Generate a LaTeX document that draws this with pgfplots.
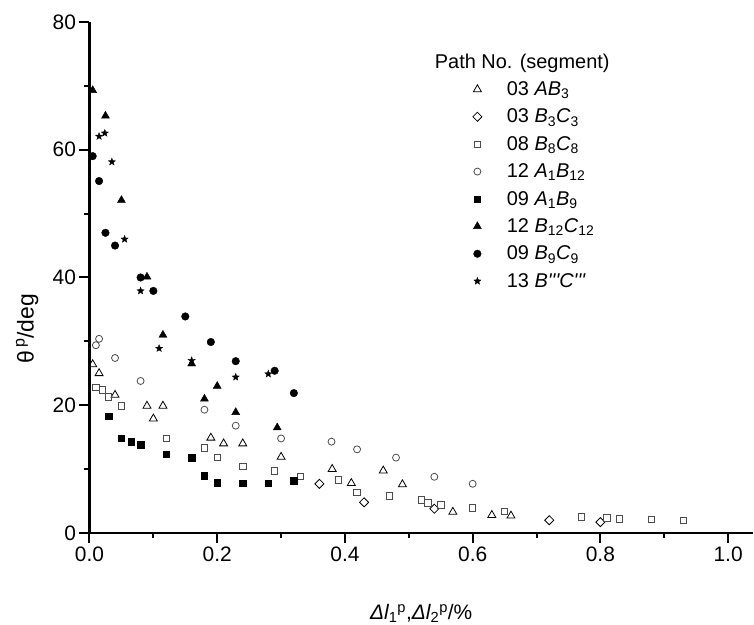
\documentclass[border=0pt]{standalone}
\usepackage{fontspec}
\setmainfont{Liberation Sans}
\usepackage{pgfplots}
\pgfplotsset{compat=1.18}
\pgfdeclareplotmark{fstar}{%
  \pgfpathmoveto{\pgfqpointpolar{90}{\pgfplotmarksize}}%
  \pgfpathlineto{\pgfqpointpolar{126}{0.42\pgfplotmarksize}}%
  \pgfpathlineto{\pgfqpointpolar{162}{\pgfplotmarksize}}%
  \pgfpathlineto{\pgfqpointpolar{198}{0.42\pgfplotmarksize}}%
  \pgfpathlineto{\pgfqpointpolar{234}{\pgfplotmarksize}}%
  \pgfpathlineto{\pgfqpointpolar{270}{0.42\pgfplotmarksize}}%
  \pgfpathlineto{\pgfqpointpolar{306}{\pgfplotmarksize}}%
  \pgfpathlineto{\pgfqpointpolar{342}{0.42\pgfplotmarksize}}%
  \pgfpathlineto{\pgfqpointpolar{18}{\pgfplotmarksize}}%
  \pgfpathlineto{\pgfqpointpolar{54}{0.42\pgfplotmarksize}}%
  \pgfpathclose
  \pgfusepathqfillstroke}
\begin{document}
\begin{tikzpicture}
\path[use as bounding box] (-89.5bp,-92bp) rectangle (664.5bp,533bp);
\begin{axis}[
  scale only axis, width=663.5bp, height=511bp,
  xmin=0, xmax=1.039, ymin=0, ymax=80,
  axis x line*=bottom, axis y line*=left,
  clip=false,
  xtick={0,0.2,0.4,0.6,0.8,1.0}, minor xtick={0.1,0.3,0.5,0.7,0.9},
  ytick={0,20,40,60,80}, minor ytick={10,30,50,70},
  tick align=outside, major tick length=10bp, minor tick length=5bp,
  every tick/.style={line width=2bp, black},
  axis line style={line width=2.2bp, black},
  /pgf/number format/assume math mode=true,
  xticklabel style={/pgf/number format/fixed, /pgf/number format/fixed zerofill, /pgf/number format/precision=1},
  ticklabel style={font=\fontsize{21}{25}\selectfont},
  xlabel={{\itshape Δl}\textsubscript{1}\textsuperscript{p},{\itshape Δl}\textsubscript{2}\textsuperscript{p}/\%},
  xlabel style={font=\fontsize{21}{25}\selectfont, at={(axis description cs:0.5,-0.170)}, anchor=base},
  ylabel={θ\textsuperscript{\,p}/deg},
  ylabel style={font=\fontsize{23}{27}\selectfont, at={(axis description cs:-0.094,0.40)}, anchor=center},
  legend cell align=left,
  legend style={draw=none, fill=none, at={(axis description cs:0.567,0.946)}, anchor=north west,
    font=\fontsize{20}{24}\selectfont, row sep=8bp, column sep=23bp},
]
\addlegendimage{empty legend}
\addlegendentry{\hspace*{-72bp}Path No. (segment)}

% 03 AB3 open triangles
\addplot[only marks, mark=triangle, mark size=4.6bp, mark options={black, line width=0.8bp, fill=white}] coordinates {
(0.005,26.4) (0.015,25.0) (0.040,21.6) (0.090,19.9) (0.100,17.9) (0.115,19.9)
(0.190,14.9) (0.210,14.0) (0.240,14.0) (0.300,11.9) (0.380,10.0) (0.410,7.8)
(0.460,9.75) (0.490,7.6) (0.569,3.3) (0.630,2.8) (0.660,2.7)
};
\addlegendentry{03 \textit{AB}\textsubscript{3}}

% 03 B3C3 open diamonds
\addplot[only marks, mark=square, mark size=3.2bp, mark options={black, line width=0.8bp, rotate=45}] coordinates {
(0.360,7.7) (0.430,4.8) (0.540,3.8) (0.720,2.0) (0.800,1.7)
};
\addlegendentry{03 \textit{B}\textsubscript{3}\textit{C}\textsubscript{3}}

% 08 B8C8 open squares
\addplot[only marks, mark=square, mark size=3.2bp, mark options={black!70, line width=0.8bp}] coordinates {
(0.010,22.8) (0.020,22.4) (0.030,21.3) (0.050,19.9) (0.120,14.8) (0.180,13.3)
(0.200,11.8) (0.240,10.4) (0.290,9.75) (0.330,8.9) (0.390,8.3) (0.419,6.4)
(0.470,5.8) (0.520,5.2) (0.530,4.7) (0.550,4.4) (0.600,3.9) (0.650,3.4)
(0.770,2.5) (0.810,2.35) (0.830,2.2) (0.880,2.1) (0.930,2.0)
};
\addlegendentry{08 \textit{B}\textsubscript{8}\textit{C}\textsubscript{8}}

% 12 A1B12 open circles
\addplot[only marks, mark=o, mark size=3.5bp, mark options={black!70, line width=0.8bp}] coordinates {
(0.015,30.4) (0.010,29.4) (0.040,27.4) (0.080,23.8) (0.180,19.3) (0.229,16.8)
(0.300,14.8) (0.379,14.3) (0.419,13.1) (0.480,11.8) (0.540,8.8) (0.600,7.7)
};
\addlegendentry{12 \textit{A}\textsubscript{1}\textit{B}\textsubscript{12}}

% 09 A1B9 filled squares
\addplot[only marks, mark=square*, mark size=3.2bp, mark options={black}] coordinates {
(0.030,18.3) (0.050,14.8) (0.065,14.3) (0.080,13.8) (0.120,12.3) (0.160,11.8)
(0.180,9.0) (0.200,7.9) (0.240,7.8) (0.280,7.8) (0.320,8.2)
};
\addlegendentry{09 \textit{A}\textsubscript{1}\textit{B}\textsubscript{9}}

% 12 B12C12 filled triangles
\addplot[only marks, mark=triangle*, mark size=4.6bp, mark options={black}] coordinates {
(0.005,69.3) (0.025,65.3) (0.050,52.1) (0.090,40.1) (0.115,31.0) (0.160,26.5)
(0.180,21.0) (0.200,23.0) (0.229,18.9) (0.294,16.5)
};
\addlegendentry{12 \textit{B}\textsubscript{12}\textit{C}\textsubscript{12}}

% 09 B9C9 filled circles
\addplot[only marks, mark=*, mark size=3.8bp, mark options={black}] coordinates {
(0.005,59.0) (0.015,55.1) (0.025,47.0) (0.040,45.0) (0.080,40.0) (0.100,37.9)
(0.150,33.9) (0.190,29.9) (0.229,26.9) (0.290,25.4) (0.320,21.9)
};
\addlegendentry{09 \textit{B}\textsubscript{9}\textit{C}\textsubscript{9}}

% 13 B'''C''' stars
\addplot[only marks, mark=fstar, mark size=3.8bp, mark options={black, fill=black, line width=0.3bp}] coordinates {
(0.015,62.1) (0.024,62.6) (0.035,58.1) (0.055,46.0) (0.080,37.9) (0.109,28.9)
(0.160,27.0) (0.229,24.4) (0.280,24.9)
};
\addlegendentry{13 \textit{B\textquotesingle\textquotesingle\textquotesingle C\textquotesingle\textquotesingle\textquotesingle}}
\end{axis}
\end{tikzpicture}
\end{document}
